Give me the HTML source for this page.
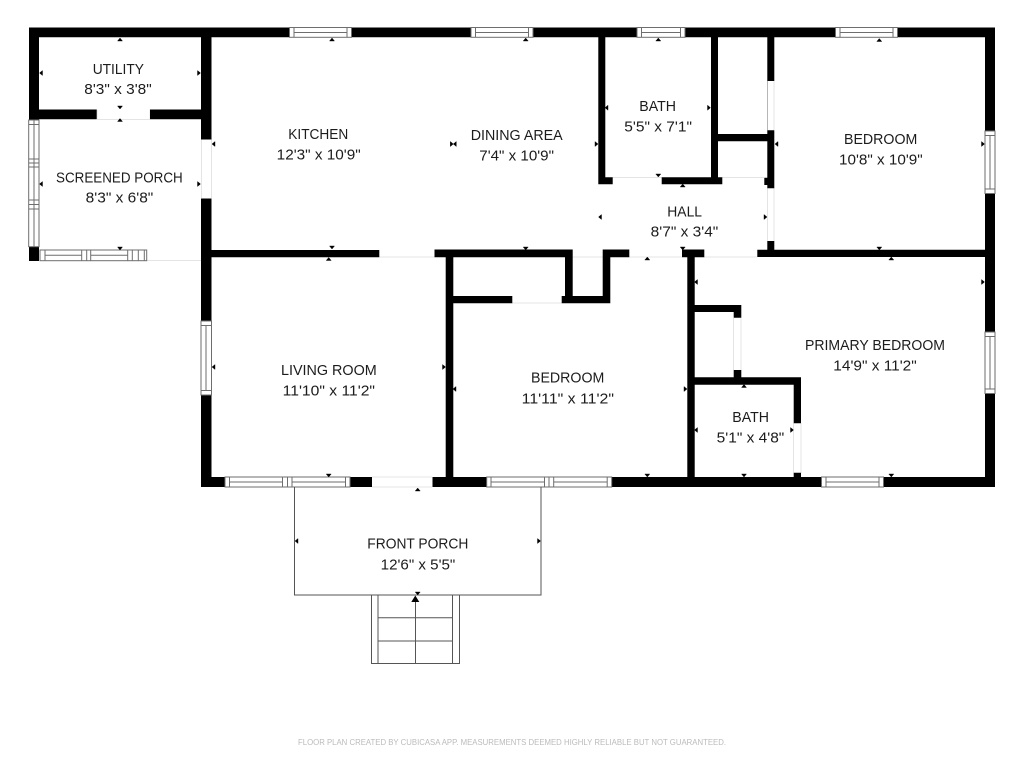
<!DOCTYPE html>
<html><head><meta charset="utf-8"><title>Floor plan</title>
<style>html,body{margin:0;padding:0;background:#fff}svg{display:block}text{font-family:"Liberation Sans",sans-serif;font-size:15px;fill:#1c1c1c}</style></head>
<body>
<svg width="1024" height="768" viewBox="0 0 1024 768" xmlns="http://www.w3.org/2000/svg">
<rect width="1024" height="768" fill="#fff"/>
<!-- faint openings -->
<path fill="none" stroke="#e4e4e4" stroke-width="1" d="M97 109.5V119M150 109.5V119M97 119.5H150M201.5 139V198M211.5 139V198M147 260.5H201M379 257H435M512 303H562M612 177.5H662M722 177.5H764M572 257H603M629 257H682M704 257H757M767.5 81V130M774 81V130M767.5 188V241M774 188V241M733.5 318V370M741 318V370M793.5 423V473M801 423V473M372 477H432M372 487H432"/>
<!-- walls -->
<path fill="#000" d="M29 27.5H289.5V37.3H39V120H29ZM351.5 27.5H471V37.3H351.5ZM533 27.5H637V37.3H533ZM685 27.5H835.5V37.3H685ZM897.5 27.5H995V131H985V37.3H897.5ZM985 193.5H995V332H985ZM985 393.5H995V487H883.5V477H985ZM821.5 477V487H611.5V477ZM486.5 477V487H432.5V477ZM372 477V487H350V477ZM225 477V487H201V395H211.5V477ZM201 321V37H211.5V139.5H201ZM201 198.5H211.5V321H201Z"/>
<path fill="#000" d="M39 109.5H96.7V119.3H39ZM150 109.5H201V119.3H150ZM29 246.7H39V261H29ZM211 250H379.3V257.3H211ZM434.5 249.5H572.7V257.3H434.5ZM565 249.5H572.7V303.3H561.7V296H565ZM602.7 249.5H629.3V257.3H610.3V303.3H561.7V296H602.7ZM445.7 257H453.3V296H512.3V303.3H453.3V477H445.7ZM682 249.5H704.3V257.3H694.7V477H687.3V257.3H682Z"/>
<path fill="#000" d="M598.3 37H605.3V177.3H612.7V184.3H598.3ZM661.7 177.3H711V37H718V134H767.3V37H774.3V81H767.3V37H774.3V81H767.5V130.3H774.3V188.3H767.3V185H764.3V177.7H767.3V141.3H718V177.3H722.3V184.3H661.7ZM767.3 241H774.3V249.7H985V257H757.3V249.7H767.3Z"/>
<path fill="#000" d="M694 305H741.3V317.7H733.7V312H694ZM733.7 370H741.3V377.3H801V423.3H793.7V384.7H694V377.3H733.7ZM793.7 472.7H801V477H793.7Z"/>
<!-- windows -->
<g fill="#fff" stroke="#6e6e6e" stroke-width="1">
<rect x="289.5" y="27.5" width="62" height="9.800"/><path d="M294 27.500V37.300M347 27.500V37.300M294 32.500H347"/>
<rect x="471" y="27.5" width="62" height="9.800"/><path d="M475.500 27.500V37.300M528.500 27.500V37.300M475.500 32.500H528.500"/>
<rect x="637" y="27.5" width="48" height="9.800"/><path d="M641.500 27.500V37.300M680.500 27.500V37.300M641.500 32.500H680.500"/>
<rect x="835.5" y="27.5" width="62" height="9.800"/><path d="M840 27.500V37.300M893 27.500V37.300M840 32.500H893"/>
<rect x="985" y="131" width="10" height="62.500"/><path d="M985 135.500H995M985 189H995M990 135.500V189"/>
<rect x="985" y="332" width="10" height="61.500"/><path d="M985 336.500H995M985 389H995M990 336.500V389"/>
<rect x="201" y="321" width="10.500" height="74"/><path d="M201 325.500H211.500M201 390.500H211.500M206 325.500V390.500"/>
<rect x="225" y="477" width="125" height="10"/><path d="M229.500 477V487M282.500 477V487M287.500 477V487M292 477V487M345.500 477V487M229.500 482H282.500M292 482H345.500"/>
<rect x="486.7" y="477" width="125" height="10"/><path d="M491 477V487M544.500 477V487M549 477V487M553.700 477V487M607.200 477V487M491 482H544.500M553.700 482H607.200"/>
<rect x="821.5" y="477" width="62" height="10"/><path d="M826 477V487M879 477V487M826 482H879"/>
<rect x="28.7" y="120" width="10.300" height="126.700"/><path d="M34 120V246.700M28.700 124.500H39M28.700 159H39M28.700 163H39M28.700 167H39M28.700 200H39M28.700 204.500H39M28.700 209H39"/>
<rect x="40" y="250" width="106.700" height="10.700"/><path d="M45 250V260.700M81.700 250V260.700M86.700 250V260.700M90.700 250V260.700M127.700 250V260.700M132.300 250V260.700M138.300 250V260.700M144.300 250V260.700M45 255.300H81.700M90.700 255.300H127.700"/>
</g>
<!-- front porch and stairs -->
<g fill="none" stroke="#555" stroke-width="1">
<path d="M294.500 487V595H541V487"/>
<path d="M371.500 595V663.500H459.500V595M378 595V663.500M452.500 595V663.500M378 617.700H452.500M378 641H452.500M415.500 600V663.500"/>
</g>
<path fill="#000" d="M415.300 595.500L419.300 602H411.300Z"/>
<!-- markers -->
<g fill="#000" stroke="#000" stroke-width="0.4">
<path d="M120 38l-2.500 3h5zM120 118.500l-2.500 3h5zM332 38l-2.500 3h5zM525.700 38l-2.500 3h5zM658.300 38l-2.500 3h5zM879.300 38.500l-2.500 3h5zM682.700 184l-2.500 3h5zM328.700 257.500l-2.500 3h5zM647.300 257l-2.500 3h5zM891.300 257l-2.500 3h5zM744 384.500l-2.500 3h5zM417.700 488l-2.500 3h5z"/>
<path d="M120 109l-2.500-3h5zM120 250l-2.500-3h5zM332 249l-2.500-3h5zM525.700 250l-2.500-3h5zM658.300 177l-2.500-3h5zM879.300 250l-2.500-3h5zM682.700 250l-2.500-3h5zM328.700 477l-2.500-3h5zM647.300 477l-2.500-3h5zM891.300 477l-2.500-3h5zM744 477l-2.500-3h5zM417.700 595l-2.500-3h5z"/>
<path d="M39.500 73l3-2.500v5zM39.500 184l3-2.500v5zM212 144l3-2.500v5zM453.300 144l3-2.500v5zM605 107.700l3-2.500v5zM775 144l3-2.500v5zM598.500 217l3-2.500v5zM212 367l3-2.500v5zM453 389l3-2.500v5zM694.500 282l3-2.500v5zM694.500 430l3-2.500v5zM295 541l3-2.500v5z"/>
<path d="M200.500 73l-3-2.500v5zM200.500 184l-3-2.500v5zM453.300 144l-3-2.500v5zM598 144l-3-2.500v5zM710.500 107.700l-3-2.500v5zM984.500 144l-3-2.500v5zM767 217l-3-2.500v5zM445.500 367l-3-2.500v5zM687 389l-3-2.500v5zM984.500 282l-3-2.500v5zM793.500 430l-3-2.500v5zM540.500 541l-3-2.500v5z"/>
</g>
<!-- labels -->
<g>
<text x="92.700" y="74" textLength="51.300" lengthAdjust="spacingAndGlyphs">UTILITY</text>
<text x="84.300" y="94" textLength="67.400" lengthAdjust="spacingAndGlyphs">8'3" x 3'8"</text>
<text x="56" y="182.700" textLength="126.700" lengthAdjust="spacingAndGlyphs">SCREENED PORCH</text>
<text x="85.700" y="202.700" textLength="67.600" lengthAdjust="spacingAndGlyphs">8'3" x 6'8"</text>
<text x="288.300" y="139" textLength="60" lengthAdjust="spacingAndGlyphs">KITCHEN</text>
<text x="276.700" y="159.300" textLength="84" lengthAdjust="spacingAndGlyphs">12'3" x 10'9"</text>
<text x="470.700" y="140" textLength="92" lengthAdjust="spacingAndGlyphs">DINING AREA</text>
<text x="479.300" y="160.300" textLength="74.700" lengthAdjust="spacingAndGlyphs">7'4" x 10'9"</text>
<text x="639.300" y="111" textLength="36.700" lengthAdjust="spacingAndGlyphs">BATH</text>
<text x="624.300" y="131.700" textLength="67.700" lengthAdjust="spacingAndGlyphs">5'5" x 7'1"</text>
<text x="844" y="144" textLength="73.300" lengthAdjust="spacingAndGlyphs">BEDROOM</text>
<text x="839" y="164.700" textLength="83.700" lengthAdjust="spacingAndGlyphs">10'8" x 10'9"</text>
<text x="667.300" y="216.700" textLength="34.700" lengthAdjust="spacingAndGlyphs">HALL</text>
<text x="650.700" y="236.700" textLength="67.600" lengthAdjust="spacingAndGlyphs">8'7" x 3'4"</text>
<text x="281" y="375" textLength="95.700" lengthAdjust="spacingAndGlyphs">LIVING ROOM</text>
<text x="282.700" y="395.300" textLength="92.300" lengthAdjust="spacingAndGlyphs">11'10" x 11'2"</text>
<text x="531" y="382.700" textLength="73.300" lengthAdjust="spacingAndGlyphs">BEDROOM</text>
<text x="521.700" y="403.300" textLength="92.300" lengthAdjust="spacingAndGlyphs">11'11" x 11'2"</text>
<text x="805" y="350" textLength="140" lengthAdjust="spacingAndGlyphs">PRIMARY BEDROOM</text>
<text x="833.300" y="370.700" textLength="83.400" lengthAdjust="spacingAndGlyphs">14'9" x 11'2"</text>
<text x="732.300" y="422" textLength="36.700" lengthAdjust="spacingAndGlyphs">BATH</text>
<text x="716.700" y="442.300" textLength="67.600" lengthAdjust="spacingAndGlyphs">5'1" x 4'8"</text>
<text x="367.300" y="548.700" textLength="101" lengthAdjust="spacingAndGlyphs">FRONT PORCH</text>
<text x="380.700" y="569.300" textLength="74.600" lengthAdjust="spacingAndGlyphs">12'6" x 5'5"</text>
<text x="298" y="745" textLength="428" lengthAdjust="spacingAndGlyphs" style="font-size:8px;fill:#bbb">FLOOR PLAN CREATED BY CUBICASA APP. MEASUREMENTS DEEMED HIGHLY RELIABLE BUT NOT GUARANTEED.</text>
</g>
</svg>
</body></html>
